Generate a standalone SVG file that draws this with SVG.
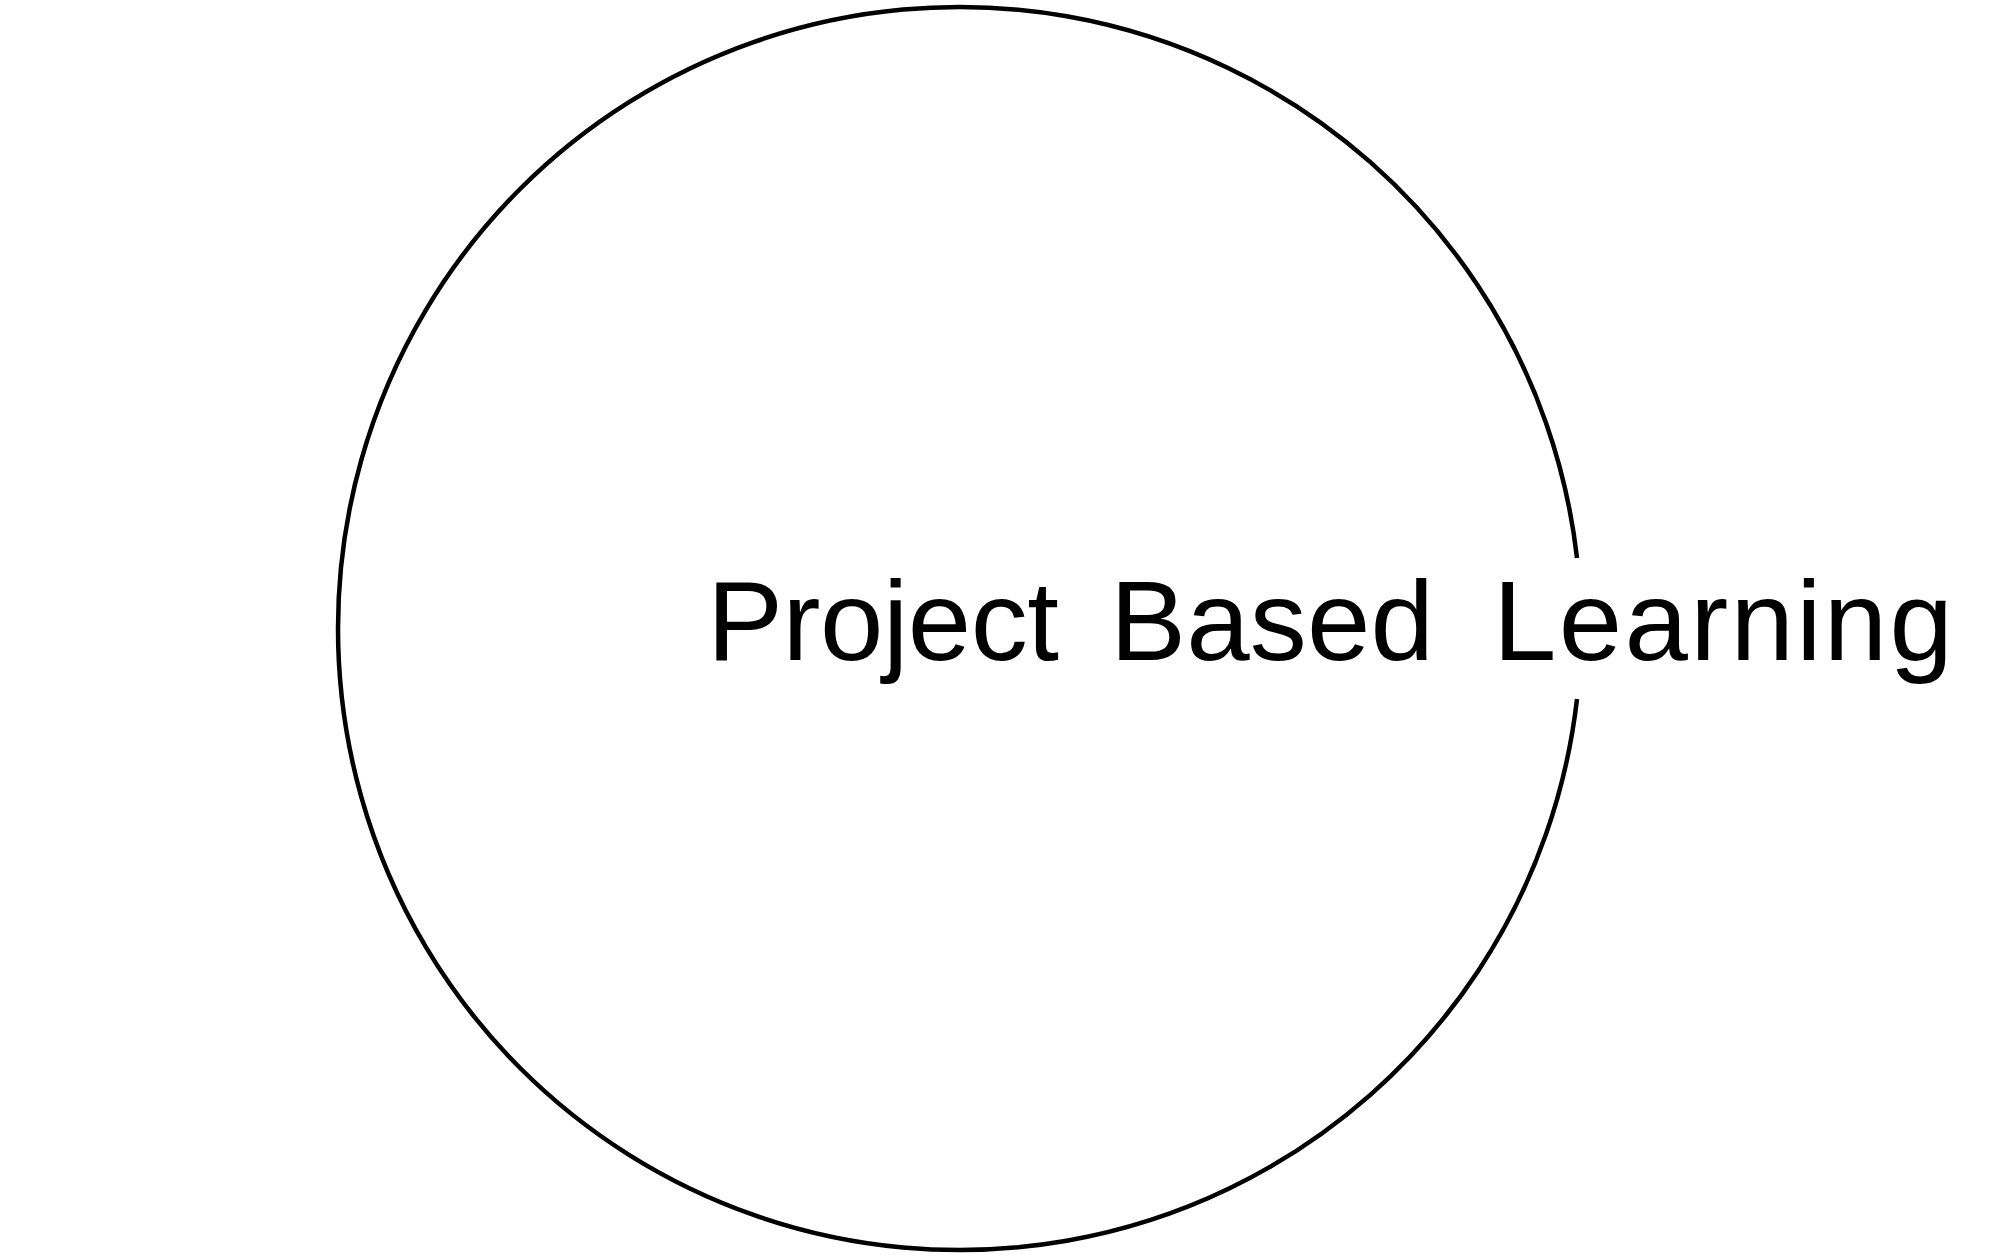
<svg xmlns="http://www.w3.org/2000/svg" width="1998" height="1258" viewBox="0 0 1998 1258">
<style>
.ring{fill:none;stroke:#000;stroke-width:4.5}
.lbl{font-family:"Liberation Sans",Arial,sans-serif;font-size:114px;fill:#000}
</style>
<rect width="1998" height="1258" fill="#fff"/>
<g id="connectors"></g>
<g id="ring">
<path class="ring" d="M 1577 558 A 621.5 621.5 0 1 0 1577 699"/>
</g>
<g id="title">
<text class="lbl" x="707" y="660" textLength="352" lengthAdjust="spacing">Project</text>
<text class="lbl" x="1110" y="660" textLength="324" lengthAdjust="spacing">Based</text>
<text class="lbl" x="1493" y="660" textLength="460" lengthAdjust="spacing">Learning</text>
</g>
</svg>
